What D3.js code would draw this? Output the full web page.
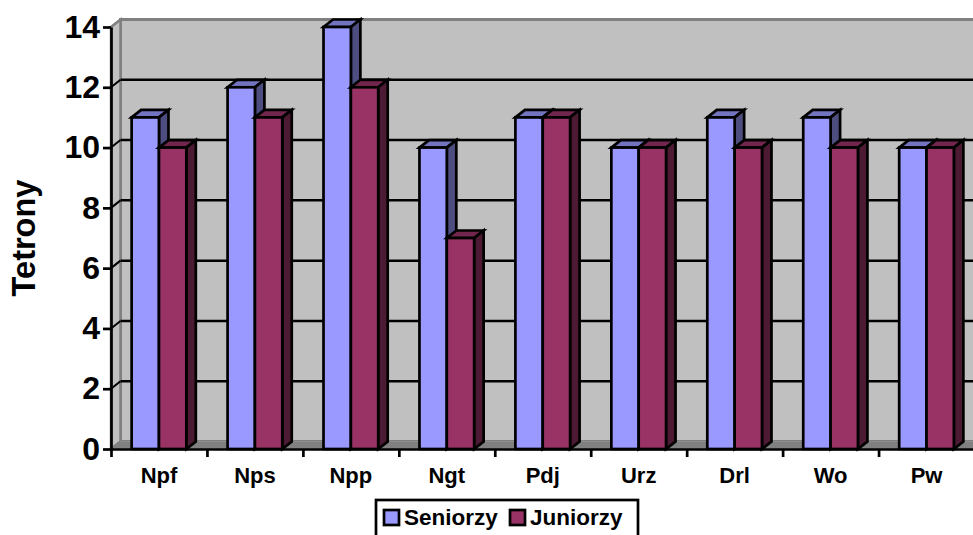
<!DOCTYPE html>
<html>
<head>
<meta charset="utf-8">
<script src="https://cdn.jsdelivr.net/npm/d3@7"></script>
<style>
	html, body { margin: 0; padding: 0; background: #fff; overflow: hidden; }
	text { font-family: "Liberation Sans", Arial, sans-serif; font-weight: bold; fill: #000; }
</style>
</head>
<body>
<div id="chart"></div>
<script>
// chart data
var categories = ['Npf', 'Nps', 'Npp', 'Ngt', 'Pdj', 'Urz', 'Drl', 'Wo', 'Pw'];
var seniorzy = [11, 12, 14, 10, 11, 10, 11, 11, 10];
var juniorzy = [10, 11, 12, 7, 11, 10, 10, 10, 10];
var seriesNames = ['Seniorzy', 'Juniorzy'];
var yTicks = [0, 2, 4, 6, 8, 10, 12, 14];

var width = 973;
var height = 535;

// plot area, front plane
var left = 111, right = 974.5, top_ = 27, bottom = 449;
// 3d offset of the back wall
var dx = 9.5, dy = 7.5;

var colors = [
	{ front: '#9999ff', top: '#7373bf', side: '#4d4d80' },
	{ front: '#993366', top: '#73264d', side: '#4d1a33' }
];

var svg = d3.select('#chart').append('svg')
	.attr('width', width)
	.attr('height', height)
	.style('display', 'block');

var y = d3.scaleLinear().domain([0, 14]).range([bottom, top_]);
var x = d3.scaleBand().domain(categories).range([left, right]).paddingInner(0.43).paddingOuter(0.215);
var xSeries = d3.scaleBand().domain([0, 1]).range([0, x.bandwidth()]);
var xEdges = d3.scaleLinear().domain([0, categories.length]).range([left, right]);

// walls
svg.append('rect')
	.attr('x', left + dx).attr('y', y(14) - dy)
	.attr('width', width - left - dx + 5).attr('height', bottom - y(14))
	.attr('fill', '#c0c0c0').attr('stroke', '#808080').attr('stroke-width', 3);

// side wall
svg.append('polygon')
	.attr('points', [[left, y(14)], [left + dx, y(14) - dy], [left + dx, bottom - dy], [left, bottom]].join(' '))
	.attr('fill', '#c0c0c0').attr('stroke', '#808080').attr('stroke-width', 2.5);

// floor
svg.append('polygon')
	.attr('points', [[left, bottom], [left + dx, bottom - dy], [width + 5, bottom - dy], [width + 5, bottom]].join(' '))
	.attr('fill', '#808080').attr('stroke', '#8c8c8c').attr('stroke-width', 1);

// grid lines on back wall
svg.selectAll('.grid').data(yTicks.filter(function (d) { return d > 0 && d < 14; }))
	.enter().append('line')
	.attr('class', 'grid')
	.attr('x1', left + dx).attr('x2', width)
	.attr('y1', function (d) { return y(d) - dy; })
	.attr('y2', function (d) { return y(d) - dy; })
	.attr('stroke', '#000').attr('stroke-width', 2.5);

// small diagonals on side wall, the first and last follow the wall edge
svg.selectAll('.diag').data(yTicks)
	.enter().append('line')
	.attr('class', 'diag')
	.attr('x1', left).attr('x2', left + dx)
	.attr('y1', function (d) { return y(d); })
	.attr('y2', function (d) { return y(d) - dy; })
	.attr('stroke', function (d) { return d > 0 && d < 14 ? '#000' : '#808080'; })
	.attr('stroke-width', 2);

// bars
var groups = svg.selectAll('.cat').data(categories)
	.enter().append('g')
	.attr('class', 'cat')
	.attr('transform', function (d) { return 'translate(' + x(d) + ',0)'; });

[seniorzy, juniorzy].forEach(function (values, s) {
	var bw = xSeries.bandwidth();
	var c = colors[s];
	var bar = groups.append('g');

	bar.append('polygon') // top face
		.attr('points', function (d, i) {
			var x0 = xSeries(s), yv = y(values[i]);
			return [[x0, yv], [x0 + dx, yv - dy], [x0 + bw + dx, yv - dy], [x0 + bw, yv]].join(' ');
		})
		.attr('fill', c.top);

	bar.append('polygon') // side face
		.attr('points', function (d, i) {
			var x1 = xSeries(s) + bw, yv = y(values[i]);
			return [[x1, yv], [x1 + dx, yv - dy], [x1 + dx, bottom - dy], [x1, bottom]].join(' ');
		})
		.attr('fill', c.side);

	bar.append('rect') // front face
		.attr('x', xSeries(s))
		.attr('y', function (d, i) { return y(values[i]); })
		.attr('width', bw)
		.attr('height', function (d, i) { return bottom - y(values[i]); })
		.attr('fill', c.front);

	bar.selectAll('polygon, rect')
		.attr('stroke', '#000').attr('stroke-width', 2.7).attr('stroke-linejoin', 'miter');
});

// y axis
var yAxis = svg.append('g')
	.attr('transform', 'translate(' + left + ',0)')
	.call(d3.axisLeft(y).tickValues(yTicks).tickSize(8).tickPadding(3).tickSizeOuter(0));
yAxis.selectAll('line, path').attr('stroke', '#000').attr('stroke-width', 2.7);
yAxis.selectAll('text').style('font-size', '32px').attr('fill', '#000');

// x axis: ticks sit between the categories, labels in the middle
var xTickAxis = svg.append('g')
	.attr('transform', 'translate(0,' + bottom + ')')
	.call(d3.axisBottom(xEdges).ticks(categories.length).tickFormat('').tickSize(8).tickSizeOuter(0));
xTickAxis.selectAll('line, path').attr('stroke', '#000').attr('stroke-width', 2.7);

var xLabelAxis = svg.append('g')
	.attr('transform', 'translate(0,' + bottom + ')')
	.call(d3.axisBottom(x).tickSize(0).tickPadding(18));
xLabelAxis.select('path').remove();
xLabelAxis.selectAll('text').style('font-size', '22px').attr('fill', '#000');

// axis title
svg.append('text')
	.attr('transform', 'translate(35,238) rotate(-90)')
	.attr('text-anchor', 'middle')
	.style('font-size', '32.5px')
	.text('Tetrony');

// legend, cut by the bottom of the picture
svg.append('rect')
	.attr('x', 376).attr('y', 500)
	.attr('width', 262).attr('height', 45)
	.attr('fill', '#fff').attr('stroke', '#000').attr('stroke-width', 2.7);

var legendX = d3.scaleOrdinal().domain(seriesNames).range([384, 510]);
var legend = svg.selectAll('.legend').data(seriesNames)
	.enter().append('g')
	.attr('class', 'legend')
	.attr('transform', function (d) { return 'translate(' + legendX(d) + ',510)'; });

legend.append('rect')
	.attr('width', 15).attr('height', 15)
	.attr('fill', function (d, i) { return colors[i].front; })
	.attr('stroke', '#000').attr('stroke-width', 2.7);

legend.append('text')
	.attr('x', 20).attr('y', 14.5)
	.style('font-size', '22.5px')
	.text(function (d) { return d; });
</script>
</body>
</html>
